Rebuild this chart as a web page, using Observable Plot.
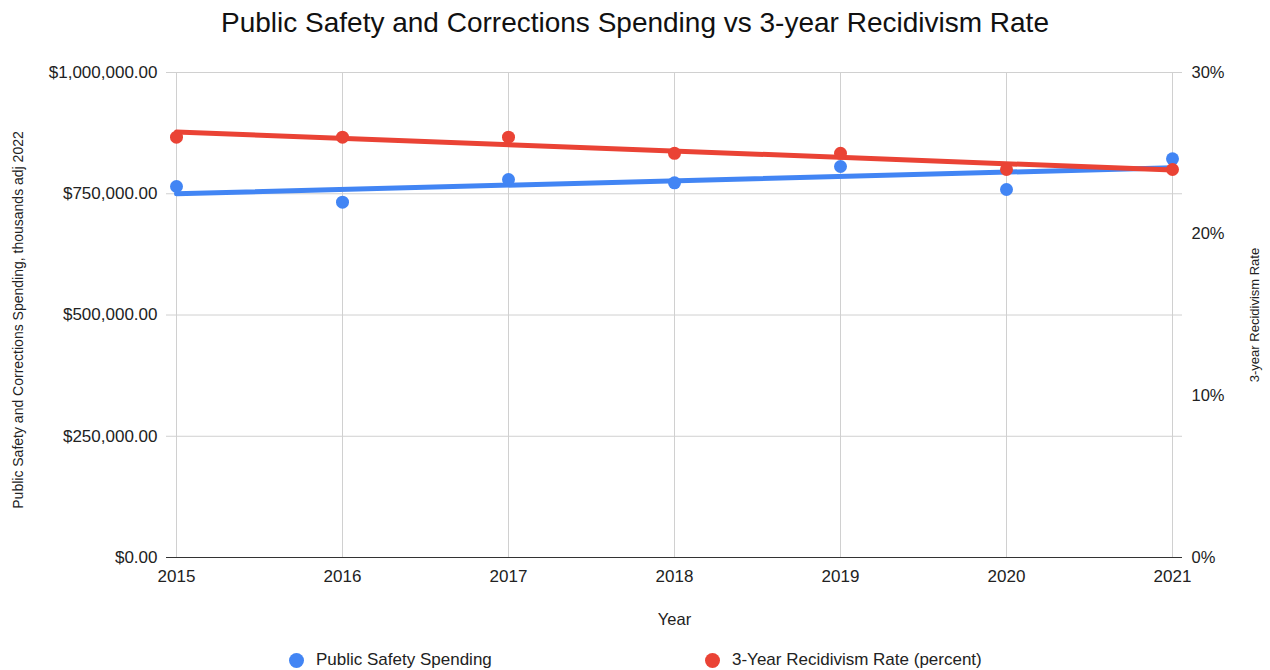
<!DOCTYPE html>
<html>
<head>
<meta charset="utf-8">
<script src="https://cdn.jsdelivr.net/npm/d3@7"></script>
<script src="https://cdn.jsdelivr.net/npm/@observablehq/plot@0.6"></script>
<style>
  html, body { margin: 0; padding: 0; background: #fff; }
  body { width: 1270px; height: 670px; font-family: "Liberation Sans", Arial, sans-serif; color: #222; }
  #title { height: 46px; line-height: 46px; text-align: center; font-size: 28px; color: #111; }
  #legend { position: relative; height: 24px; font-size: 17px; color: #222; margin-top: 2px; }
  .item { position: absolute; top: 0; display: flex; align-items: center; height: 24px; }
  .sw { width: 15px; height: 15px; border-radius: 50%; display: inline-block; margin-right: 12px; }
</style>
</head>
<body>
<div id="title">Public Safety and Corrections Spending vs 3-year Recidivism Rate</div>
<div id="chart"></div>
<div id="legend"></div>
<script>
const years = [2015, 2016, 2017, 2018, 2019, 2020, 2021];
const spending = [765000, 732600, 779400, 772600, 806200, 758800, 822100];
const recidivism = [26, 26, 26, 25, 25, 24, 24];
const spendTicks = [0, 250000, 500000, 750000, 1000000];
const rateTicks = [0, 10, 20, 30];
const rateMax = 30;
const spendMax = 1000000;
const seriesNames = ["Public Safety Spending", "3-Year Recidivism Rate (percent)"];
const colors = ["#4285F4", "#EA4335"];

// map right-axis (percent) values onto the shared y scale
const rateToY = r => r / rateMax * spendMax;

const spendData = years.map((year, i) => ({year, value: spending[i]}));
const rateData = years.map((year, i) => ({year, value: rateToY(recidivism[i])}));

const chart = Plot.plot({
  width: 1270,
  height: 600,
  marginTop: 26,
  marginBottom: 89,
  marginLeft: 176,
  marginRight: 98,
  style: {fontFamily: "'Liberation Sans', Arial, sans-serif", fontSize: "17px", color: "#222", background: "#fff"},
  x: {type: "linear", domain: [2015, 2021]},
  y: {domain: [0, spendMax]},
  marks: [
    Plot.ruleX(years, {stroke: "#d0d0d0", strokeWidth: 1}),
    Plot.ruleY(spendTicks.filter(d => d > 0), {stroke: "#d0d0d0", strokeWidth: 1, insetLeft: -10, insetRight: -10}),
    Plot.ruleY([0], {stroke: "#333", strokeWidth: 1.2, insetLeft: -10, insetRight: -10}),
    Plot.axisX({ticks: years, tickFormat: "d", tickSize: 0, tickPadding: 12, label: null, fontSize: 17}),
    Plot.axisY({anchor: "left", ticks: spendTicks, tickFormat: d3.format("$,.2f"), tickSize: 0, tickPadding: 19, label: null, fontSize: 17}),
    Plot.axisY({anchor: "right", ticks: rateTicks.map(rateToY), tickFormat: d => Math.round(d / spendMax * rateMax) + "%", tickSize: 0, tickPadding: 19, label: null, fontSize: 16.5}),
    Plot.linearRegressionY(spendData, {x: "year", y: "value", stroke: colors[0], strokeWidth: 5, ci: 0}),
    Plot.linearRegressionY(rateData, {x: "year", y: "value", stroke: colors[1], strokeWidth: 5, ci: 0}),
    Plot.dot(spendData, {x: "year", y: "value", r: 6.5, fill: colors[0]}),
    Plot.dot(rateData, {x: "year", y: "value", r: 6.5, fill: colors[1]}),
    Plot.text(["Public Safety and Corrections Spending, thousands adj 2022"], {frameAnchor: "left", dx: -158, dy: 5, rotate: -90, fontSize: 14, fill: "#222", textAnchor: "middle"}),
    Plot.text(["3-year Recidivism Rate"], {frameAnchor: "right", dx: 82, dy: 0, rotate: -90, fontSize: 13, fill: "#222", textAnchor: "middle"}),
    Plot.text(["Year"], {frameAnchor: "bottom", dy: 67, fontSize: 16.5, fill: "#222"})
  ]
});
document.getElementById("chart").appendChild(chart);

const legend = document.getElementById("legend");
const legendX = [289, 705];
seriesNames.forEach((name, i) => {
  const item = document.createElement("div");
  item.className = "item";
  item.style.left = legendX[i] + "px";
  item.innerHTML = `<span class="sw" style="background:${colors[i]}"></span><span>${name}</span>`;
  legend.appendChild(item);
});
</script>
</body>
</html>
